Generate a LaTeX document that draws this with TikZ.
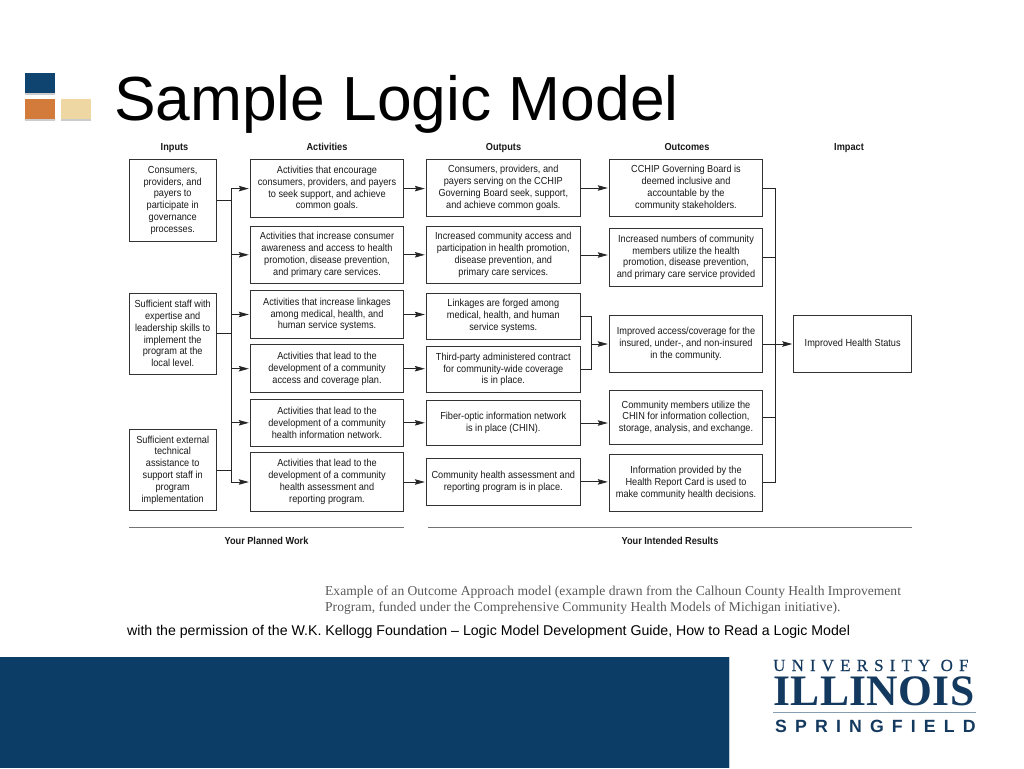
\documentclass[tikz,border=0pt]{standalone}
\usepackage{fontspec}
\setmainfont{Liberation Sans}
\newfontfamily\boxfont[FakeStretch=0.9]{Liberation Sans}
\newfontfamily\serifcap{Liberation Serif}
\newfontfamily\logotop[LetterSpace=36,FakeBold=0.4]{Liberation Serif}
\newfontfamily\logomid[LetterSpace=1]{Liberation Serif}
\newfontfamily\logolow[LetterSpace=46]{Liberation Sans}
\usetikzlibrary{arrows.meta}
\usetikzlibrary{positioning}
\usetikzlibrary{shadows}
\definecolor{navy}{HTML}{0B3D66}
\definecolor{squarenavy}{HTML}{0F4470}
\definecolor{squareorange}{HTML}{D27B3A}
\definecolor{squaretan}{HTML}{EFD7A4}
\definecolor{logonavy}{HTML}{14395F}
\definecolor{boxline}{HTML}{333333}
\tikzset{box/.style = {draw = boxline, line width = 0.9, align = center, inner sep = 0,
    text = black!90, font = \boxfont\fontsize{10.2}{11.8}\selectfont}}
\tikzset{inbox/.style = {box, minimum width = 87.5}}
\tikzset{actbox/.style = {box, minimum width = 153.5}}
\tikzset{outbox/.style = {box, minimum width = 154}}
\tikzset{resbox/.style = {box, minimum width = 153.5}}
\tikzset{head/.style = {anchor = base, inner sep = 0, text = black!90, font = \boxfont\bfseries\fontsize{10.2}{12}\selectfont}}
\tikzset{wire/.style = {draw = black!85, line width = 0.9}}
\tikzset{arw/.style = {wire, -{Stealth[length = 10pt, width = 5.5pt, inset = 1.5pt]}, shorten > = 1}}
\tikzset{rule/.style = {draw = black!55, line width = 1.3}}
\tikzset{square/.style = {minimum width = 30, minimum height = 20, inner sep = 0,
    drop shadow = {shadow xshift = 0, shadow yshift = 2, fill = black, opacity = 0.2}}}
\begin{document}
\begin{tikzpicture}[x=1pt, y=-1pt]
  \useasboundingbox (0, 0) rectangle (1024, 768);
  % slide
  \fill [navy] (0, 657) rectangle (729, 768);
  \fill [navy!25] (729, 657) rectangle (730, 768);
  \node [square, fill = squarenavy] (sqnavy) at (40, 83) {};
  \node [square, fill = squareorange] (sqorange) at (40, 109) {};
  \node [square, fill = squaretan] (sqtan) at (75.5, 109) {};
  \node [anchor = base west, inner sep = 0, font = \fontsize{62.3}{70}\selectfont] (title) at (114, 120) {Sample Logic Model};

  % headings
  \node [head] (hin) at (174.5, 150) {Inputs};
  \node [head] (hact) at (327, 150) {Activities};
  \node [head] (hout) at (503.5, 150) {Outputs};
  \node [head] (hres) at (687, 150) {Outcomes};
  \node [head] (himp) at (849, 150) {Impact};

  % inputs
  \node [inbox, minimum height = 81.5] (in1) at (172.7, 200.3) {Consumers,\\providers, and\\payers to\\participate in\\governance\\processes.};
  \node [inbox, minimum height = 81] (in2) at (172.7, 333.5) {Sufficient staff with\\expertise and\\leadership skills to\\implement the\\program at the\\local level.};
  \node [inbox, minimum height = 81.4] (in3) at (172.7, 470) {Sufficient external\\technical\\assistance to\\support staff in\\program\\implementation};

  % activities
  \node [actbox, minimum height = 58] (act1) at (327, 188.6) {Activities that encourage\\consumers, providers, and payers\\to seek support, and achieve\\common goals.};
  \node [actbox, minimum height = 57.7] (act2) at (327, 254.8) {Activities that increase consumer\\awareness and access to health\\promotion, disease prevention,\\and primary care services.};
  \node [actbox, minimum height = 48.3] (act3) at (327, 314.5) {Activities that increase linkages\\among medical, health, and\\human service systems.};
  \node [actbox, minimum height = 47.7] (act4) at (327, 368.7) {Activities that lead to the\\development of a community\\access and coverage plan.};
  \node [actbox, minimum height = 47.7] (act5) at (327, 422.8) {Activities that lead to the\\development of a community\\health information network.};
  \node [actbox, minimum height = 58.6] (act6) at (327, 482) {Activities that lead to the\\development of a community\\health assessment and\\reporting program.};

  % outputs
  \node [outbox, minimum height = 57.4] (out1) at (503.3, 188) {Consumers, providers, and\\payers serving on the CCHIP\\Governing Board seek, support,\\and achieve common goals.};
  \node [outbox, minimum height = 56.6] (out2) at (503.3, 255) {Increased community access and\\participation in health promotion,\\disease prevention, and\\primary care services.};
  \node [outbox, minimum height = 46] (out3) at (503.3, 316) {Linkages are forged among\\medical, health, and human\\service systems.};
  \node [outbox, minimum height = 46.4] (out4) at (503.3, 369.5) {Third-party administered contract\\for community-wide coverage\\is in place.};
  \node [outbox, minimum height = 45.4] (out5) at (503.3, 423) {Fiber-optic information network\\is in place (CHIN).};
  \node [outbox, minimum height = 46.3] (out6) at (503.3, 481.9) {Community health assessment and\\reporting program is in place.};

  % outcomes
  \node [resbox, minimum height = 57.4] (res1) at (686, 188) {CCHIP Governing Board is\\deemed inclusive and\\accountable by the\\community stakeholders.};
  \node [resbox, minimum height = 57.3] (res2) at (686, 257.3) {Increased numbers of community\\members utilize the health\\promotion, disease prevention,\\and primary care service provided};
  \node [resbox, minimum height = 57.4] (res3) at (686, 344) {Improved access/coverage for the\\insured, under-, and non-insured\\in the community.};
  \node [resbox, minimum height = 54] (res4) at (686, 417.3) {Community members utilize the\\CHIN for information collection,\\storage, analysis, and exchange.};
  \node [resbox, minimum height = 57] (res5) at (686, 482.8) {Information provided by the\\Health Report Card is used to\\make community health decisions.};

  % impact
  \node [box, minimum width = 118, minimum height = 57.4] (imp) at (852.7, 344) {Improved Health Status};

  % input bus
  \coordinate (busin) at (231.3, 0);
  \foreach \n in {1,2,3}{
    \draw [wire] (in\n.east) -- (in\n.east -| busin);
  }
  \draw [wire] (busin |- act1.west) -- (busin |- act6.west);
  \foreach \n in {1,...,6}{
    \draw [arw] (busin |- act\n.west) -- (act\n.west);
    \draw [arw] (act\n.east) -- (act\n.east -| out\n.west);
  }

  % outputs to outcomes
  \draw [arw] (out1.east) -- (out1.east -| res1.west);
  \draw [arw] (out2.east) -- (out2.east -| res2.west);
  \draw [arw] (out5.east) -- (out5.east -| res4.west);
  \draw [arw] (out6.east) -- (out6.east -| res5.west);
  \coordinate (busmid) at (591.3, 0);
  \draw [wire] (out3.east) -| (busmid |- out4.east) -- (out4.east);
  \draw [arw] (busmid |- res3.west) -- (res3.west);

  % outcome bus
  \coordinate (busres) at (775.3, 0);
  \foreach \n in {1,2,4,5}{
    \draw [wire] (res\n.east) -- (res\n.east -| busres);
  }
  \draw [wire] (busres |- res1.east) -- (busres |- res5.east);
  \draw [arw] (res3.east) -- (imp.west);

  % brackets
  \coordinate (rulea) at (129, 527.3);
  \coordinate (ruleb) at (404, 527.3);
  \coordinate (rulec) at (427.7, 527.3);
  \coordinate (ruled) at (912, 527.3);
  \draw [rule] (rulea) -- (ruleb);
  \draw [rule] (rulec) -- (ruled);
  \node [head] (planned) at (266.5, 544) {Your Planned Work};
  \node [head] (intended) at (670, 544) {Your Intended Results};

  % captions
  \node [anchor = base west, inner sep = 0, text = black!65, font = \serifcap\fontsize{13.56}{16}\selectfont] (capa) at (325, 595) {Example of an Outcome Approach model (example drawn from the Calhoun County Health Improvement};
  \node [anchor = base west, inner sep = 0, text = black!65, font = \serifcap\fontsize{13.56}{16}\selectfont] (capb) at (325, 611) {Program, funded under the Comprehensive Community Health Models of Michigan initiative).};
  \node [anchor = base west, inner sep = 0, font = \fontsize{14.15}{16}\selectfont] (credit) at (127, 635) {with the permission of the W.K. Kellogg Foundation -- Logic Model Development Guide, How to Read a Logic Model};

  % logo
  \node [anchor = base west, inner sep = 0, text = logonavy, font = \logotop\fontsize{17}{18}\selectfont] (logoa) at (773, 671) {UNIVERSITY OF};
  \node [anchor = base west, inner sep = 0, text = logonavy, font = \logomid\bfseries\fontsize{43.5}{46}\selectfont] (logob) at (773, 705.7) {ILLINOIS};
  \node [anchor = base west, inner sep = 0, text = logonavy, font = \logolow\bfseries\fontsize{17.7}{20}\selectfont] (logoc) at (775, 732.7) {SPRINGFIELD};
  \coordinate (logol) at (773, 712.3);
  \coordinate (logor) at (976, 712.3);
  \draw [draw = navy!50, line width = 1.2] (logol) -- (logor);
\end{tikzpicture}
\end{document}
